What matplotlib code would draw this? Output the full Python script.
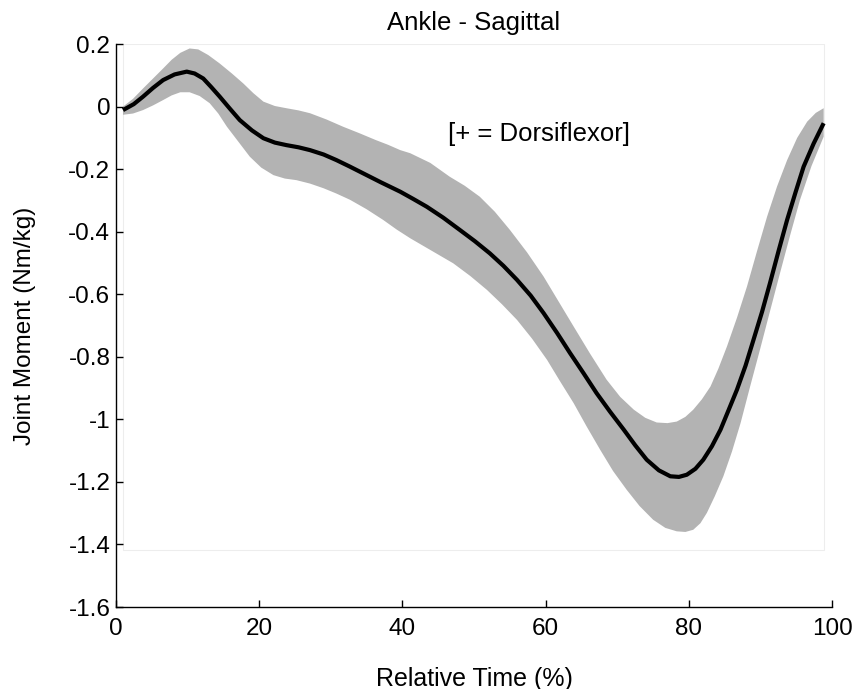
import numpy as np
import matplotlib.pyplot as plt
from matplotlib.patches import Rectangle

plt.rcParams['font.family'] = ['Liberation Sans', 'DejaVu Sans']

# mean curve
x_mean = [1.0, 2.5, 3.8, 5.2, 6.6, 8.2, 9.9, 11.0, 12.2, 13.3, 14.5, 15.9,
          17.3, 19.0, 20.6, 22.2, 23.8, 25.5, 27.1, 29.0, 30.8, 32.6, 34.5,
          37.0, 39.7, 41.5, 43.4, 45.7, 48.0, 50.1, 52.2, 54.1, 56.0, 57.9,
          59.7, 61.6, 63.4, 65.3, 67.1, 69.0, 70.9, 72.5, 74.1, 75.8, 77.4,
          78.6, 79.7, 80.9, 82.0, 83.2, 84.4, 85.5, 86.7, 87.9, 89.0, 90.2,
          91.3, 92.5, 93.7, 94.9, 96.0, 97.4, 98.8]
y_mean = [-0.011, 0.008, 0.032, 0.060, 0.085, 0.103, 0.112, 0.106, 0.090,
          0.063, 0.032, -0.006, -0.043, -0.076, -0.101, -0.115, -0.123,
          -0.130, -0.139, -0.153, -0.171, -0.191, -0.213, -0.242, -0.272,
          -0.295, -0.320, -0.355, -0.394, -0.430, -0.469, -0.509, -0.554,
          -0.604, -0.660, -0.724, -0.788, -0.853, -0.916, -0.976, -1.033,
          -1.083, -1.129, -1.163, -1.182, -1.184, -1.177, -1.158, -1.129,
          -1.086, -1.033, -0.972, -0.905, -0.828, -0.746, -0.656, -0.565,
          -0.462, -0.362, -0.272, -0.192, -0.118, -0.053]

# +1 SD edge
x_upper = [1.0, 2.4, 3.8, 5.2, 6.6, 7.8, 9.0, 10.3, 11.5, 12.9, 14.5, 16.2,
           17.8, 19.2, 20.6, 22.2, 23.8, 25.5, 27.1, 29.4, 31.7, 34.0, 36.3,
           38.0, 39.7, 41.1, 43.9, 46.6, 48.7, 50.8, 52.9, 55.0, 57.4, 59.7,
           61.8, 63.9, 66.2, 68.5, 70.4, 72.3, 73.9, 75.5, 77.0, 78.3, 79.5,
           80.6, 81.8, 83.0, 84.1, 85.3, 86.7, 88.1, 89.5, 90.9, 92.3, 93.7,
           95.1, 96.5, 97.7, 98.8]
y_upper = [0.000, 0.025, 0.058, 0.090, 0.122, 0.150, 0.172, 0.186, 0.183,
           0.165, 0.138, 0.106, 0.074, 0.043, 0.016, 0.002, -0.005, -0.012,
           -0.021, -0.041, -0.064, -0.085, -0.107, -0.122, -0.139, -0.149,
           -0.180, -0.224, -0.253, -0.288, -0.336, -0.394, -0.466, -0.543,
           -0.623, -0.703, -0.790, -0.873, -0.928, -0.969, -0.995, -1.010,
           -1.012, -1.007, -0.992, -0.969, -0.936, -0.895, -0.838, -0.767,
           -0.675, -0.575, -0.462, -0.352, -0.255, -0.171, -0.100, -0.048,
           -0.020, -0.005]

# -1 SD edge
x_lower = [1.0, 2.4, 3.8, 5.2, 6.6, 7.8, 9.0, 10.3, 11.7, 13.1, 14.3, 15.5,
           17.1, 18.7, 20.3, 22.0, 23.6, 25.2, 27.1, 29.0, 30.8, 32.7, 35.0,
           37.3, 39.2, 41.1, 44.1, 47.1, 49.5, 51.8, 53.9, 56.0, 58.1, 60.2,
           62.0, 63.9, 65.7, 67.6, 69.4, 71.3, 73.1, 75.0, 76.7, 78.3, 79.5,
           80.6, 81.6, 82.5, 83.6, 84.8, 86.0, 87.2, 88.5, 89.9, 91.3, 92.7,
           94.1, 95.5, 97.1, 98.8]
y_lower = [-0.026, -0.022, -0.011, 0.004, 0.021, 0.036, 0.046, 0.046, 0.034,
           0.011, -0.022, -0.064, -0.112, -0.160, -0.195, -0.219, -0.230,
           -0.235, -0.246, -0.261, -0.278, -0.298, -0.328, -0.362, -0.393,
           -0.421, -0.461, -0.501, -0.542, -0.586, -0.632, -0.682, -0.742,
           -0.810, -0.878, -0.948, -1.022, -1.097, -1.165, -1.225, -1.277,
           -1.321, -1.347, -1.358, -1.360, -1.353, -1.332, -1.299, -1.246,
           -1.182, -1.103, -1.012, -0.898, -0.778, -0.655, -0.533, -0.413,
           -0.298, -0.190, -0.096]

fs = 17.5

fig = plt.figure(figsize=(8.58, 6.89), dpi=100)
ax = fig.add_axes([0.135, 0.119, 0.835, 0.817])

# faint frame left behind by the band patch
ax.add_patch(Rectangle((1, -1.417), 97.9, 1.617, fill=False,
                       edgecolor='#ededed', linewidth=0.8, zorder=0))

band_x = np.concatenate([x_upper, x_lower[::-1]])
band_y = np.concatenate([y_upper, y_lower[::-1]])
ax.fill(band_x, band_y, color='#b3b3b3', linewidth=0, zorder=1)
ax.plot(x_mean, y_mean, color='black', linewidth=3, zorder=2,
        solid_joinstyle='round', solid_capstyle='butt')

ax.set_xlim(0, 100)
ax.set_ylim(-1.6, 0.2)
ax.set_xticks([0, 20, 40, 60, 80, 100])
ax.set_yticks([-1.6, -1.4, -1.2, -1, -0.8, -0.6, -0.4, -0.2, 0, 0.2])
ax.set_yticklabels(['-1.6', '-1.4', '-1.2', '-1', '-0.8', '-0.6', '-0.4',
                    '-0.2', '0', '0.2'])
ax.tick_params(direction='in', length=5, width=1, labelsize=fs)
ax.tick_params(axis='x', pad=8)
ax.tick_params(axis='y', pad=4)
ax.spines['top'].set_visible(False)
ax.spines['right'].set_visible(False)
for s in ('left', 'bottom'):
    ax.spines[s].set_linewidth(1)

ax.set_title('Ankle - Sagittal', fontsize=18.5, pad=10)
ax.set_xlabel('Relative Time (%)', fontsize=18, labelpad=19)
ax.set_ylabel('Joint Moment (Nm/kg)', fontsize=fs, labelpad=23)
ax.text(46.4, -0.088, '[+ = Dorsiflexor]', fontsize=18.5, va='center', ha='left')

fig.savefig('out.png', dpi=100)
